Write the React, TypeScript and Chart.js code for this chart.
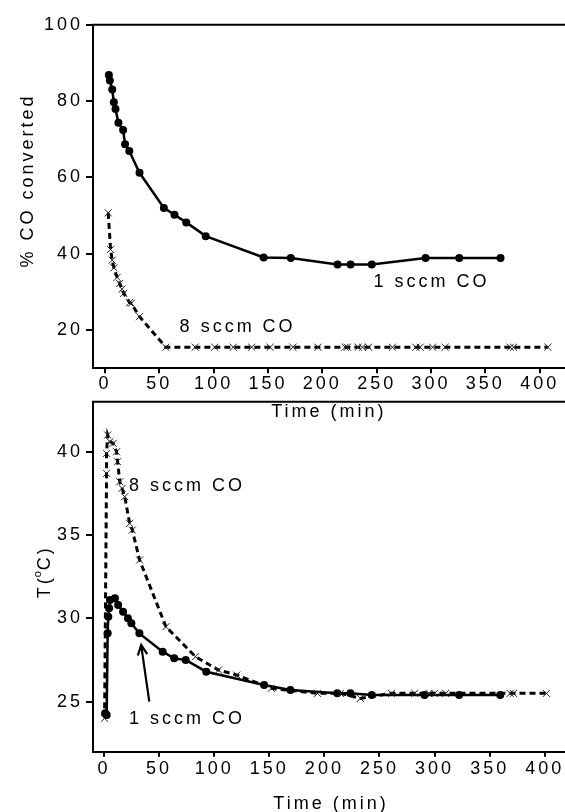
import { useEffect, useRef } from "react";
import { Chart, registerables } from "chart.js";

Chart.register(...registerables);

// ---------- data ----------
const xTickValues = [0, 50, 100, 150, 200, 250, 300, 350, 400];
const topYTickValues = [20, 40, 60, 80, 100];
const bottomYTickValues = [25, 30, 35, 40];

// Top panel: % CO converted vs time (min)
const conv1Time = [3.6, 4.5, 6.7, 8.2, 9.7, 12.4, 16.7, 18.5, 22.4, 31.8, 54.2, 64, 74.8, 92.7, 146, 171, 214, 226, 245.5, 295, 326, 364];
const conv1Value = [86.8, 85.4, 83.0, 79.7, 77.9, 74.3, 72.4, 68.7, 66.9, 61.2, 52.0, 50.2, 48.2, 44.6, 39.0, 38.9, 37.2, 37.2, 37.2, 38.9, 38.9, 38.9];

const conv8Time = [3, 5.2, 6.7, 8.2, 11.2, 13.6, 15.7, 17.3, 22.7, 24.2, 31.8, 56, 83, 101, 118, 135, 152, 173, 196, 221, 223, 233, 237, 242.5, 264.5, 286, 290, 301.5, 313, 373, 376, 407.6];
const conv8Value = [50.7, 41.1, 38.3, 36.3, 33.8, 32.2, 30.7, 29.6, 27.2, 27.0, 23.5, 15.5, 15.5, 15.5, 15.5, 15.5, 15.5, 15.5, 15.5, 15.5, 15.5, 15.5, 15.5, 15.5, 15.5, 15.5, 15.5, 15.5, 15.5, 15.5, 15.5, 15.5];

// Bottom panel: T (°C) vs time (min)
const temp1Time = [1, 2.4, 3.3, 3.9, 4.6, 5.4, 9.9, 12.8, 17.3, 21.7, 24.8, 32.1, 53.2, 63.7, 74.1, 92.8, 145.3, 169.2, 211.7, 223.6, 243, 290.9, 322.3, 359.6];
const temp1Value = [24.3, 24.2, 29.1, 30.1, 30.6, 31.1, 31.2, 30.8, 30.4, 30.0, 29.7, 29.1, 28.0, 27.6, 27.5, 26.8, 26.0, 25.7, 25.5, 25.5, 25.4, 25.4, 25.4, 25.4];

const temp8Time = [0.5, 2.3, 2.3, 3.3, 5.4, 8.3, 11.4, 12.3, 14.3, 16.4, 18.8, 23.3, 25.7, 32.3, 56.2, 83, 104, 120.5, 151.8, 193.7, 214.6, 232.6, 261, 282, 295, 300, 310, 368.6, 371.6, 401.5];
const temp8Value = [24.0, 38.7, 39.9, 41.0, 40.6, 40.5, 40.0, 39.4, 38.2, 37.8, 37.3, 35.7, 35.3, 33.5, 29.5, 27.7, 26.9, 26.6, 25.8, 25.5, 25.5, 25.2, 25.5, 25.5, 25.5, 25.5, 25.5, 25.5, 25.5, 25.5];

const seriesLabels = ["1 sccm CO", "8 sccm CO"];
const xTitle = "Time (min)";
const topYTitle = "% CO converted";

// ---------- styling ----------
const FONT = '"Liberation Sans", Arial, Helvetica, sans-serif';
const CW = 600;
const CH = 812;
const SPACING = "3px";

function pts(t: number[], v: number[]) {
  return t.map((x, i) => ({ x, y: v[i] }));
}

const spacingPlugin = {
  id: "spacing",
  beforeUpdate(chart: any) {
    chart.ctx.letterSpacing = SPACING;
  },
  beforeDraw(chart: any) {
    chart.ctx.letterSpacing = SPACING;
  },
};

function setTicks(values: number[]) {
  return (scale: any) => {
    scale.ticks = values.map((v) => ({ value: v }));
  };
}

function drawText(ctx: CanvasRenderingContext2D, text: string, x: number, y: number, align: CanvasTextAlign = "left") {
  ctx.save();
  ctx.letterSpacing = SPACING;
  ctx.font = `18px ${FONT}`;
  ctx.fillStyle = "#000";
  ctx.textAlign = align;
  ctx.textBaseline = "alphabetic";
  ctx.fillText(text, x, y);
  ctx.restore();
}

function makeConfig(which: "top" | "bottom"): any {
  const isTop = which === "top";
  const s1 = isTop ? pts(conv1Time, conv1Value) : pts(temp1Time, temp1Value);
  const s8 = isTop ? pts(conv8Time, conv8Value) : pts(temp8Time, temp8Value);
  const chartTop = isTop ? 24.7 : 401.7;
  const chartBottom = isTop ? 368.2 : 751.7;

  const decorPlugin = {
    id: "decor" + which,
    afterDraw(chart: any) {
      const ctx: CanvasRenderingContext2D = chart.ctx;
      const { chartArea } = chart;
      const xs = chart.scales.x;
      const ys = chart.scales.y;
      // top frame line
      ctx.save();
      ctx.strokeStyle = "#000";
      ctx.lineWidth = 2;
      ctx.beginPath();
      ctx.moveTo(chartArea.left - 1, chartArea.top);
      ctx.lineTo(chartArea.right, chartArea.top);
      ctx.stroke();
      ctx.restore();

      // x title
      drawText(ctx, xTitle, xs.getPixelForValue(206), chartArea.bottom + (isTop ? 49 : 57), "center");

      if (isTop) {
        // y title rotated
        ctx.save();
        ctx.translate(33, (chartArea.top + chartArea.bottom) / 2 - 16);
        ctx.rotate(-Math.PI / 2);
        drawText(ctx, topYTitle, 0, 0, "center");
        ctx.restore();
        drawText(ctx, seriesLabels[0], xs.getPixelForValue(247), ys.getPixelForValue(31.3));
        drawText(ctx, seriesLabels[1], xs.getPixelForValue(68.7), ys.getPixelForValue(19.6));
      } else {
        // T(°C) rotated with superscript o
        ctx.save();
        ctx.translate(50, (chartArea.top + chartArea.bottom) / 2 - 6);
        ctx.rotate(-Math.PI / 2);
        ctx.letterSpacing = SPACING;
        ctx.fillStyle = "#000";
        ctx.textBaseline = "alphabetic";
        ctx.font = `18px ${FONT}`;
        const w1 = ctx.measureText("T(").width;
        const w3 = ctx.measureText("C)").width;
        ctx.font = `11px ${FONT}`;
        const w2 = ctx.measureText("o").width - 2;
        const total = w1 + w2 + w3;
        let x0 = -total / 2;
        ctx.font = `18px ${FONT}`;
        ctx.textAlign = "left";
        ctx.fillText("T(", x0, 0);
        x0 += w1 - 2;
        ctx.font = `11px ${FONT}`;
        ctx.fillText("o", x0, -9);
        x0 += w2;
        ctx.font = `18px ${FONT}`;
        ctx.fillText("C)", x0, 0);
        ctx.restore();

        drawText(ctx, seriesLabels[1], xs.getPixelForValue(22.6), ys.getPixelForValue(37.66));
        drawText(ctx, seriesLabels[0], xs.getPixelForValue(22.6), ys.getPixelForValue(23.66));

        // arrow
        const x1 = xs.getPixelForValue(41.1);
        const y1 = ys.getPixelForValue(25.0);
        const x2 = xs.getPixelForValue(33.7);
        const y2 = ys.getPixelForValue(28.4);
        const ang = Math.atan2(y2 - y1, x2 - x1);
        ctx.save();
        ctx.strokeStyle = "#000";
        ctx.lineWidth = 2.2;
        ctx.beginPath();
        ctx.moveTo(x1, y1);
        ctx.lineTo(x2, y2);
        const hl = 11;
        ctx.moveTo(x2 - hl * Math.cos(ang - 0.45), y2 - hl * Math.sin(ang - 0.45));
        ctx.lineTo(x2, y2);
        ctx.lineTo(x2 - hl * Math.cos(ang + 0.45), y2 - hl * Math.sin(ang + 0.45));
        ctx.stroke();
        ctx.restore();
      }
    },
  };

  const tickFont = { family: FONT, size: 18 };

  return {
    type: "line",
    data: {
      datasets: [
        {
          label: seriesLabels[1],
          data: s8,
          borderColor: "#000",
          borderWidth: 3,
          borderDash: [6, 4],
          pointStyle: "crossRot",
          pointRadius: 5,
          pointBorderWidth: 1,
          pointBorderColor: "#222",
          pointBackgroundColor: "#222",
          tension: 0,
          fill: false,
        },
        {
          label: seriesLabels[0],
          data: s1,
          borderColor: "#000",
          borderWidth: 2.5,
          pointStyle: "circle",
          pointRadius: 4,
          pointBorderWidth: 0,
          pointBackgroundColor: "#000",
          tension: 0,
          fill: false,
        },
      ],
    },
    options: {
      responsive: false,
      animation: false,
      devicePixelRatio: 1,
      events: [],
      layout: { padding: { left: 0, right: 0, top: chartTop, bottom: 0 } },
      plugins: { legend: { display: false }, tooltip: { enabled: false }, title: { display: false } },
      scales: {
        x: {
          type: "linear",
          min: isTop ? -11 : -10,
          max: isTop ? 450 : 444.7,
          afterBuildTicks: setTicks(xTickValues),
          afterFit: (scale: any) => {
            scale.height = CH - chartBottom;
          },
          ticks: { font: tickFont, color: "#000", padding: isTop ? 0 : 2, maxRotation: 0, autoSkip: false },
          grid: { drawOnChartArea: false, drawTicks: true, tickLength: 5, color: "#000", lineWidth: 2 },
          border: { display: true, color: "#000", width: 2 },
        },
        y: {
          type: "linear",
          min: isTop ? 10 : 22,
          max: isTop ? 100 : 43,
          afterBuildTicks: setTicks(isTop ? topYTickValues : bottomYTickValues),
          afterFit: (scale: any) => {
            scale.width = 93;
          },
          ticks: { font: tickFont, color: "#000", padding: 3 },
          grid: { drawOnChartArea: false, drawTicks: true, tickLength: 7, color: "#000", lineWidth: 2 },
          border: { display: true, color: "#000", width: 2 },
        },
      },
    },
    plugins: [spacingPlugin, decorPlugin],
  };
}

function Panel({ which }: { which: "top" | "bottom" }) {
  const ref = useRef<HTMLCanvasElement | null>(null);
  useEffect(() => {
    if (!ref.current) return;
    const chart = new Chart(ref.current, makeConfig(which));
    return () => chart.destroy();
  }, [which]);
  return (
    <canvas
      ref={ref}
      width={CW}
      height={CH}
      style={{ position: "absolute", left: 0, top: 0, width: CW, height: CH }}
    />
  );
}

export default function App() {
  return (
    <div
      style={{
        position: "absolute",
        left: 0,
        top: 0,
        width: 565,
        height: 812,
        overflow: "hidden",
        background: "#fff",
      }}
    >
      <Panel which="top" />
      <Panel which="bottom" />
    </div>
  );
}
